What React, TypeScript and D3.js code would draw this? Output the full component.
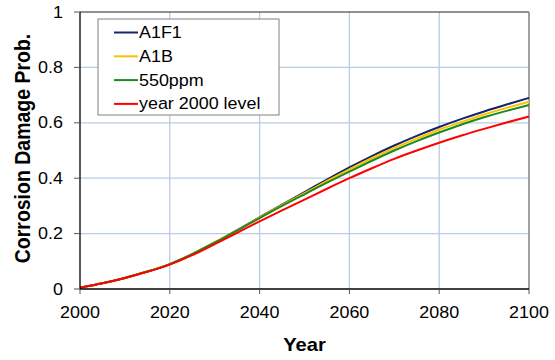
import React from 'react';
import * as d3 from 'd3';

const years = [2000, 2005, 2010, 2015, 2020, 2025, 2030, 2035, 2040, 2045, 2050,
  2055, 2060, 2065, 2070, 2075, 2080, 2085, 2090, 2095, 2100];

const a1f1 = [0.005, 0.021, 0.040, 0.063, 0.090, 0.126, 0.168, 0.213, 0.259, 0.305, 0.350,
  0.395, 0.439, 0.480, 0.518, 0.553, 0.585, 0.614, 0.641, 0.666, 0.690];
const a1b = [0.005, 0.021, 0.040, 0.063, 0.090, 0.126, 0.168, 0.212, 0.258, 0.303, 0.346,
  0.390, 0.432, 0.472, 0.509, 0.543, 0.575, 0.603, 0.630, 0.654, 0.676];
const ppm550 = [0.005, 0.021, 0.040, 0.063, 0.090, 0.126, 0.167, 0.211, 0.256, 0.300, 0.342,
  0.384, 0.424, 0.463, 0.500, 0.534, 0.565, 0.594, 0.620, 0.643, 0.664];
const level2000 = [0.005, 0.021, 0.040, 0.062, 0.088, 0.122, 0.162, 0.203, 0.244, 0.284, 0.323,
  0.362, 0.400, 0.436, 0.470, 0.500, 0.528, 0.554, 0.578, 0.601, 0.623];

const seriesNames = ['A1F1', 'A1B', '550ppm', 'year 2000 level'];
const seriesColors = ['#14256b', '#ffc000', '#1a8a1a', '#ff0000'];
const seriesValues = [a1f1, a1b, ppm550, level2000];

const xTicks = [2000, 2020, 2040, 2060, 2080, 2100];
const yTicks = [0, 0.2, 0.4, 0.6, 0.8, 1];

const W = 555;
const H = 360;
const left = 80, right = 529, top = 12, bottom = 289;
const SX = 1.12; // the reference text is a bit stretched sideways
const font = '"Liberation Sans", Arial, sans-serif';

export default function App() {
  const x = d3.scaleLinear().domain([2000, 2100]).range([left, right]);
  const y = d3.scaleLinear().domain([0, 1]).range([bottom, top]);

  const line = d3.line<number>()
    .x((_, i) => x(years[i]))
    .y(d => y(d))
    .curve(d3.curveNatural);

  const lx = 98, ly = 19, lw = 181, lh = 96;

  return (
    <div style={{ position: 'absolute', left: 0, top: 0 }}>
      <svg width={W} height={H} style={{ display: 'block', background: '#fff' }} fontFamily={font}>
        {/* grid */}
        {xTicks.slice(1, -1).map(t => (
          <line key={'gx' + t} x1={x(t)} x2={x(t)} y1={top} y2={bottom} stroke="#b8cce4" strokeWidth={1.3} />
        ))}
        {yTicks.slice(1, -1).map(t => (
          <line key={'gy' + t} x1={left} x2={right} y1={y(t)} y2={y(t)} stroke="#b8cce4" strokeWidth={1.3} />
        ))}
        {/* frame */}
        <line x1={left} x2={right} y1={top} y2={top} stroke="#222" strokeWidth={1} />
        <line x1={right} x2={right} y1={top} y2={bottom} stroke="#808080" strokeWidth={1.5} />

        {/* series */}
        {seriesValues.map((vals, i) => (
          <path key={seriesNames[i]} d={line(vals) || ''} fill="none" stroke={seriesColors[i]} strokeWidth={2} />
        ))}

        {/* axes */}
        <line x1={left} x2={left} y1={top} y2={bottom} stroke="#000" strokeWidth={1.3} />
        <line x1={left} x2={right} y1={bottom} y2={bottom} stroke="#000" strokeWidth={1.3} />
        {yTicks.map(t => (
          <g key={'yt' + t}>
            <line x1={left - 6} x2={left} y1={y(t)} y2={y(t)} stroke="#555" strokeWidth={1} />
            <text transform={`translate(63,${y(t) + 5.5}) scale(${SX},1)`} textAnchor="end" fontSize={16} fill="#000">
              {String(t)}
            </text>
          </g>
        ))}
        {xTicks.map(t => (
          <g key={'xt' + t}>
            <line x1={x(t)} x2={x(t)} y1={bottom} y2={bottom + 5} stroke="#555" strokeWidth={1} />
            <text transform={`translate(${x(t)},318) scale(${SX},1)`} textAnchor="middle" fontSize={16} fill="#000">
              {t}
            </text>
          </g>
        ))}

        {/* axis titles */}
        <text transform={`translate(${(left + right) / 2},351) scale(${SX},1)`} textAnchor="middle"
          fontSize={18} fontWeight="bold" fill="#000">Year</text>
        <text transform={`translate(30,${(top + bottom) / 2 - 2}) rotate(-90) scale(1,${SX})`} textAnchor="middle"
          fontSize={19.5} fontWeight="bold" fill="#000">Corrosion Damage Prob.</text>

        {/* legend */}
        <rect x={lx} y={ly} width={lw} height={lh} fill="#fff" stroke="#808080" strokeWidth={1} />
        {seriesNames.map((name, i) => {
          const by = 38 + i * 23.8;
          return (
            <g key={'lg' + name}>
              <line x1={114} x2={138} y1={by - 5.5} y2={by - 5.5} stroke={seriesColors[i]} strokeWidth={2} />
              <text transform={`translate(139,${by}) scale(${SX},1)`} fontSize={16} fill="#000">{name}</text>
            </g>
          );
        })}
      </svg>
    </div>
  );
}
